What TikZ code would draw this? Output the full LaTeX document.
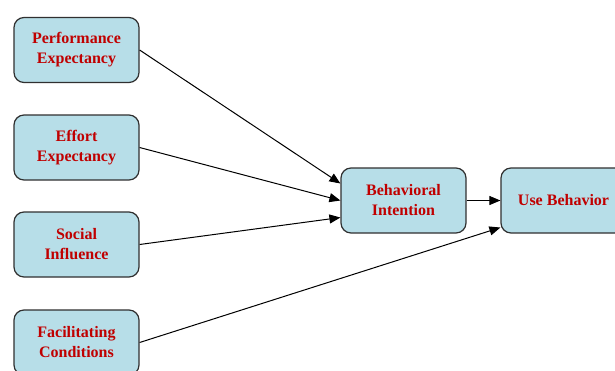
\documentclass[tikz,border=0pt]{standalone}
\usepackage{fontspec}
\setmainfont{Liberation Serif}
\usetikzlibrary{arrows.meta, positioning}

\definecolor{boxfill}{HTML}{B7DEE8}
\definecolor{boxtext}{HTML}{C00000}
\definecolor{boxline}{HTML}{303030}

\tikzset{
    construct/.style={draw=boxline, line width=1.2pt, fill=boxfill, rounded corners=10pt,
        minimum width=125pt, minimum height=65pt, align=center, text=boxtext,
        font=\fontsize{16}{20}\selectfont\bfseries},
    link/.style={-{Triangle[length=11pt, width=9pt]}, line width=1pt}
}

\begin{document}
\begin{tikzpicture}[x=1pt, y=-1pt]
    \useasboundingbox (0, 0) rectangle (615, 370);
    \clip (0, 0) rectangle (615, 370);

    % Predictors
    \node[construct] (PE) at (76.5, 50) {Performance\\Expectancy};
    \node[construct] (EE) at (76.5, 147.5) {Effort\\Expectancy};
    \node[construct] (SI) at (76.5, 244.5) {Social\\Influence};
    \node[construct] (FC) at (76.5, 342.5) {Facilitating\\Conditions};

    % Outcomes
    \node[construct] (BI) at (403.5, 200.5) {Behavioral\\Intention};
    \node[construct] (UB) at (563.5, 200.5) {Use Behavior};

    % Paths
    \draw[link] (PE.east) -- ([yshift=17pt]BI.west);
    \draw[link] (EE.east) -- (BI.west);
    \draw[link] (SI.east) -- ([yshift=-17pt]BI.west);
    \draw[link] (FC.east) -- ([yshift=-27pt]UB.west);
    \draw[link] (BI.east) -- (UB.west);
\end{tikzpicture}
\end{document}
